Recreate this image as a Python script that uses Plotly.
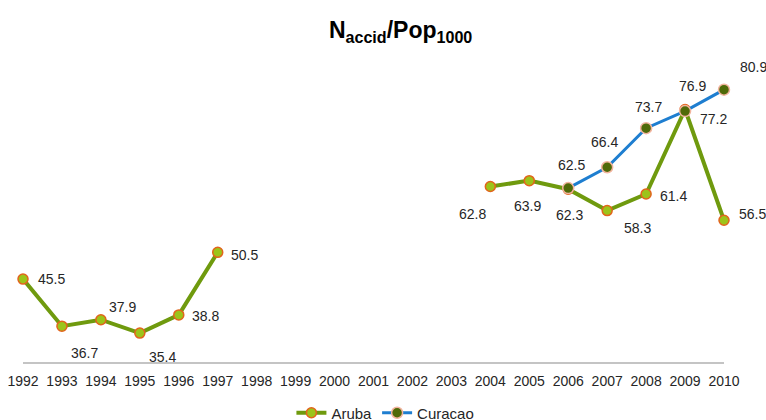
import plotly.graph_objects as go

years = list(range(1992, 2011))
aruba = [45.5, 36.7, 37.9, 35.4, 38.8, 50.5, None, None, None, None, None, None,
         62.8, 63.9, 62.3, 58.3, 61.4, 77.2, 56.5]
curacao_years = [2006, 2007, 2008, 2009, 2010]
curacao = [62.5, 66.4, 73.7, 76.9, 80.9]

# label offsets in pixels (style only)
aruba_off = {1992: (28, 0), 1993: (23, 27), 1994: (22, -13), 1995: (23, 24),
             1996: (27, 1), 1997: (27, 3), 2004: (-18, 27), 2005: (-2, 25),
             2006: (1, 26), 2007: (30, 17), 2008: (27, 2), 2009: (28, 10),
             2010: (28, -6)}
cur_off = {2006: (3, -23), 2007: (-3, -25), 2008: (2, -21), 2009: (7, -25),
           2010: (29, -23)}

FONT = "Liberation Sans Narrow, Arial Narrow, Liberation Sans, Arial, sans-serif"
FS = 14

fig = go.Figure()
fig.add_trace(go.Scatter(
    x=years, y=aruba, name="Aruba", mode="lines+markers", connectgaps=False,
    line=dict(color="#6F9A0E", width=4),
    marker=dict(size=10, color="#9CC41A", line=dict(color="#E2641C", width=1.5)),
    cliponaxis=False))
fig.add_trace(go.Scatter(
    x=curacao_years, y=curacao, name="Curacao", mode="lines+markers",
    line=dict(color="#1E7ED0", width=3),
    marker=dict(size=11, color="#4F6A08", line=dict(color="#F2B49E", width=1.5)),
    cliponaxis=False))

anns = []
for yr, v in zip(years, aruba):
    if v is None:
        continue
    dx, dy = aruba_off[yr]
    anns.append(dict(x=yr, y=v, text=f"{v:.1f}", showarrow=False,
                     xshift=dx, yshift=-dy, font=dict(size=FS, color="#262626", family=FONT)))
for yr, v in zip(curacao_years, curacao):
    dx, dy = cur_off[yr]
    anns.append(dict(x=yr, y=v, text=f"{v:.1f}", showarrow=False,
                     xshift=dx, yshift=-dy, font=dict(size=FS, color="#262626", family=FONT)))

fig.update_layout(
    width=766, height=420,
    margin=dict(l=23, r=42, t=41, b=58, autoexpand=False),
    paper_bgcolor="white", plot_bgcolor="white",
    font=dict(family=FONT, size=FS, color="#262626"),
    title=dict(text="<b>N<sub>accid</sub>/Pop<sub>1000</sub></b>",
               x=0.523, xref="container", xanchor="center",
               y=1 - 30 / 420, yref="container", yanchor="middle",
               font=dict(family="Liberation Sans, Arial, sans-serif", size=23, color="#000000")),
    xaxis=dict(range=[1992, 2010], tickmode="array", tickvals=years,
               ticktext=[str(y) for y in years], showgrid=False, zeroline=False,
               showline=True, linecolor="#C4C4C4", linewidth=1.5, automargin=False,
               ticks="outside", ticklen=5, tickcolor="rgba(0,0,0,0)",
               tickfont=dict(size=FS, family=FONT, color="#262626")),
    yaxis=dict(range=[30, 90], visible=False, automargin=False),
    showlegend=True,
    legend=dict(orientation="h", x=0.517, xref="paper", xanchor="center",
                y=-51 / 321, yanchor="middle",
                font=dict(size=15, family=FONT, color="#262626"),
                itemwidth=30, tracegroupgap=0),
    annotations=anns,
)

fig.write_html("out.html", config={"displayModeBar": False},
               post_script="document.body.style.margin='0';")
